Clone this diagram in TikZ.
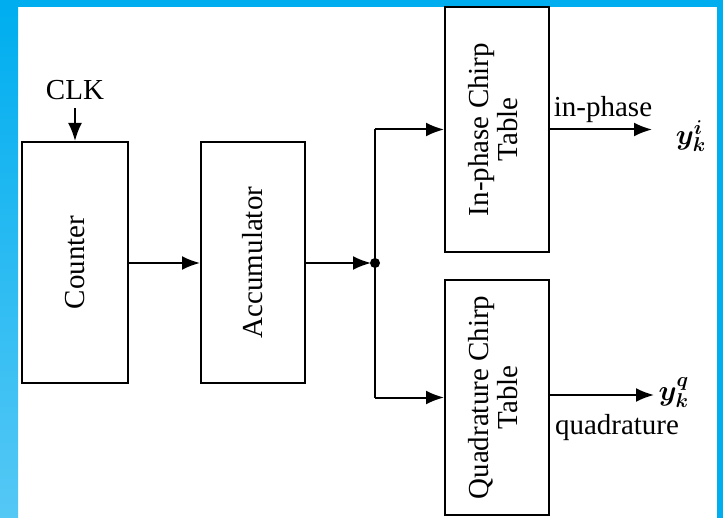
\documentclass[tikz,border=0pt]{standalone}
\usepackage{fontspec}
\setmainfont{Liberation Serif}
\usepackage{bm}
\usetikzlibrary{arrows.meta}
\usetikzlibrary{calc}

\definecolor{frameblue}{RGB}{0,174,239}
\definecolor{framelight}{RGB}{85,200,245}

\tikzset{
  block/.style={draw, line width=1pt, inner sep=0pt, align=center},
  arr/.style={line width=1pt, -{Latex[length=9pt,width=7pt]}},
  conn/.style={line width=1pt},
  lbl/.style={font=\fontsize{14.5}{14.5}\selectfont, inner sep=1pt}
}

\begin{document}
\begin{tikzpicture}[x=0.5pt, y=-0.5pt, every node/.style={font=\fontsize{14.5}{14.5}\selectfont}]
      \useasboundingbox (0,0) rectangle (723,518);

      % frame of the slide
      \fill[frameblue] (0,0) rectangle (723,7);
      \shade[top color=frameblue, bottom color=framelight] (0,7) rectangle (18,518);
      \fill[frameblue] (717,7) rectangle (723,518);

      \begin{scope}
        \node[block, minimum width=53pt, minimum height=120.5pt] (cnt) at (75,262.5) {\rotatebox{90}{Counter}};
        \node[block, minimum width=52pt, minimum height=120.5pt] (acc) at (253,262.5) {\rotatebox{90}{Accumulator}};
        \node[block, minimum width=52pt, minimum height=122.5pt] (ip) at (497,129.5) {\rotatebox{90}{\begin{tabular}{@{}c@{}}In-phase Chirp\\Table\end{tabular}}};
        \node[block, minimum width=52pt, minimum height=117.5pt] (qd) at (497,397.5) {\rotatebox{90}{\begin{tabular}{@{}c@{}}Quadrature Chirp\\Table\end{tabular}}};
      \end{scope}

      \node[lbl] (clk) at (75,90) {CLK};
      \draw[arr] ($(clk.south)+(0,6)$) -- (cnt.north);

      \coordinate (jn) at (375,263);
      \draw[arr] (cnt.east |- jn) -- (acc.west |- jn);
      \draw[arr] (acc.east |- jn) -- ($(jn)+(-4,0)$);
      \fill (jn) circle (5);
      \draw[conn] (jn |- ip) -- (jn |- qd);
      \draw[arr] (jn |- ip) -- (ip.west);
      \draw[arr] (jn |- qd) -- (qd.west);

      % outputs
      \coordinate (ipout) at (652,129.5);
      \coordinate (qdout) at (654,395);
      \draw[arr] (ip.east) -- (ipout);
      \draw[arr] (qd.east |- qdout) -- (qdout);
      \node[lbl] (iplbl) at (603,110) {in-phase};
      \node[lbl] (qdlbl) at (617,428) {quadrature};
      \node[lbl] (yi) at (691,136) {$\bm{y_k^i}$};
      \node[lbl] (yq) at (674,393) {$\bm{y_k^q}$};
\end{tikzpicture}
\end{document}
